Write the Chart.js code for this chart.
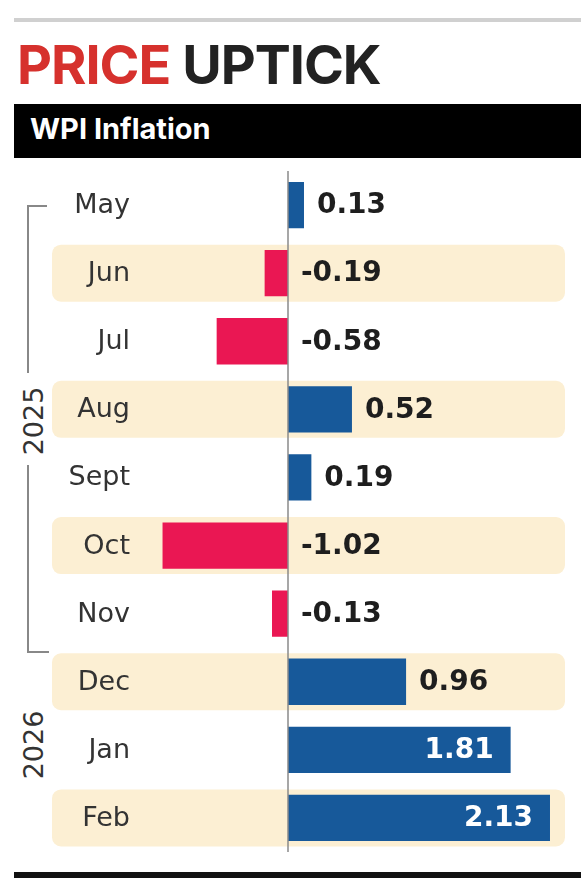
<!DOCTYPE html>
<html>
<head>
<meta charset="utf-8">
<script src="https://cdn.jsdelivr.net/npm/chart.js@4"></script>
<style>
  html, body { margin: 0; padding: 0; background: #fff; }
  body { width: 581px; height: 891px; position: relative; overflow: hidden; font-family: Inter, "Noto Sans", sans-serif; }
  #topRule { position: absolute; left: 14px; right: 0; top: 18px; height: 4px; background: #d0d0d0; }
  #title { position: absolute; left: 17px; top: 38px; font-size: 54px; font-weight: 700; letter-spacing: -1px; color: #222; line-height: 1; }
  #title span { color: #d6312d; }
  #subBar { position: absolute; left: 14px; right: 0; top: 104px; height: 54px; background: #000; }
  #subBar div { position: absolute; left: 16px; top: 10px; color: #fff; font-size: 29px; font-weight: 700; line-height: 1; }
  #bottomRule { position: absolute; left: 14px; right: 0; top: 872px; height: 6px; background: #111; }
  .year { position: absolute; font-family: "DejaVu Sans", sans-serif; font-size: 27px; color: #333; transform: translate(-50%, -50%) rotate(-90deg); line-height: 1; }
  .brk { position: absolute; background: #888; }
  canvas { position: absolute; left: 0; top: 0; }
</style>
</head>
<body>
<div id="topRule"></div>
<div id="title"><span>PRICE</span> UPTICK</div>
<div id="subBar"><div>WPI Inflation</div></div>

<div class="brk" style="left:27px; top:205px; width:2px; height:168px;"></div>
<div class="brk" style="left:27px; top:205px; width:20px; height:2px;"></div>
<div class="brk" style="left:27px; top:465px; width:2px; height:188px;"></div>
<div class="brk" style="left:27px; top:651px; width:22px; height:2px;"></div>
<div class="year" style="left:33px; top:421px;">2025</div>
<div class="year" style="left:33px; top:745px;">2026</div>

<div style="position:absolute; left:0; top:0; width:581px; height:891px;"><canvas id="chart"></canvas></div>
<div id="bottomRule"></div>

<script>
// --- Data ---
const months = ["May", "Jun", "Jul", "Aug", "Sept", "Oct", "Nov", "Dec", "Jan", "Feb"];
const wpi = [0.13, -0.19, -0.58, 0.52, 0.19, -1.02, -0.13, 0.96, 1.81, 2.13];

const BLUE = "#17599a";
const RED = "#ea1753";
const BAND = "#fcefd3";

// beige bands behind every other row
const bandsPlugin = {
  id: "bands",
  beforeDatasetsDraw(chart) {
    const { ctx, scales: { y } } = chart;
    ctx.save();
    ctx.fillStyle = BAND;
    months.forEach((m, i) => {
      if (i % 2 === 0) return;
      const cy = y.getPixelForValue(i);
      ctx.beginPath();
      ctx.roundRect(52, cy - 28.5, 513, 57, 9);
      ctx.fill();
    });
    ctx.restore();
  }
};

// month names, zero line and value labels
const labelsPlugin = {
  id: "labels",
  afterDatasetsDraw(chart) {
    const { ctx, chartArea, scales: { x, y } } = chart;
    const zero = x.getPixelForValue(0);
    ctx.save();

    ctx.strokeStyle = "#8a8a8a";
    ctx.lineWidth = 1.5;
    ctx.beginPath();
    ctx.moveTo(zero, chartArea.top);
    ctx.lineTo(zero, chartArea.bottom);
    ctx.stroke();

    ctx.textBaseline = "middle";
    months.forEach((m, i) => {
      const cy = y.getPixelForValue(i);
      ctx.font = "27px 'DejaVu Sans', sans-serif";
      ctx.fillStyle = "#333";
      ctx.textAlign = "right";
      ctx.fillText(m, 130, cy + 1);

      const v = wpi[i];
      const end = x.getPixelForValue(v);
      ctx.font = "bold 28px 'DejaVu Sans', sans-serif";
      if (v > 1.5) {
        ctx.fillStyle = "#fff";
        ctx.textAlign = "right";
        ctx.fillText(v.toFixed(2), end - 17, cy + 1);
      } else {
        ctx.fillStyle = "#1e1e1e";
        ctx.textAlign = "left";
        ctx.fillText(v.toFixed(2), Math.max(end, zero) + 13, cy + 1);
      }
    });
    ctx.restore();
  }
};

new Chart(document.getElementById("chart"), {
  type: "bar",
  data: {
    labels: months,
    datasets: [{
      data: wpi,
      backgroundColor: wpi.map(v => v < 0 ? RED : BLUE),
      barPercentage: 0.68,
      categoryPercentage: 1
    }]
  },
  options: {
    indexAxis: "y",
    responsive: true,
    maintainAspectRatio: false,
    animation: false,
    layout: { padding: { left: 140.4, right: 22.4, top: 171, bottom: 39 } },
    plugins: { legend: { display: false }, tooltip: { enabled: false } },
    scales: {
      x: { display: false, min: -1.2, max: 2.2 },
      y: { display: false }
    }
  },
  plugins: [bandsPlugin, labelsPlugin]
});
</script>
</body>
</html>
